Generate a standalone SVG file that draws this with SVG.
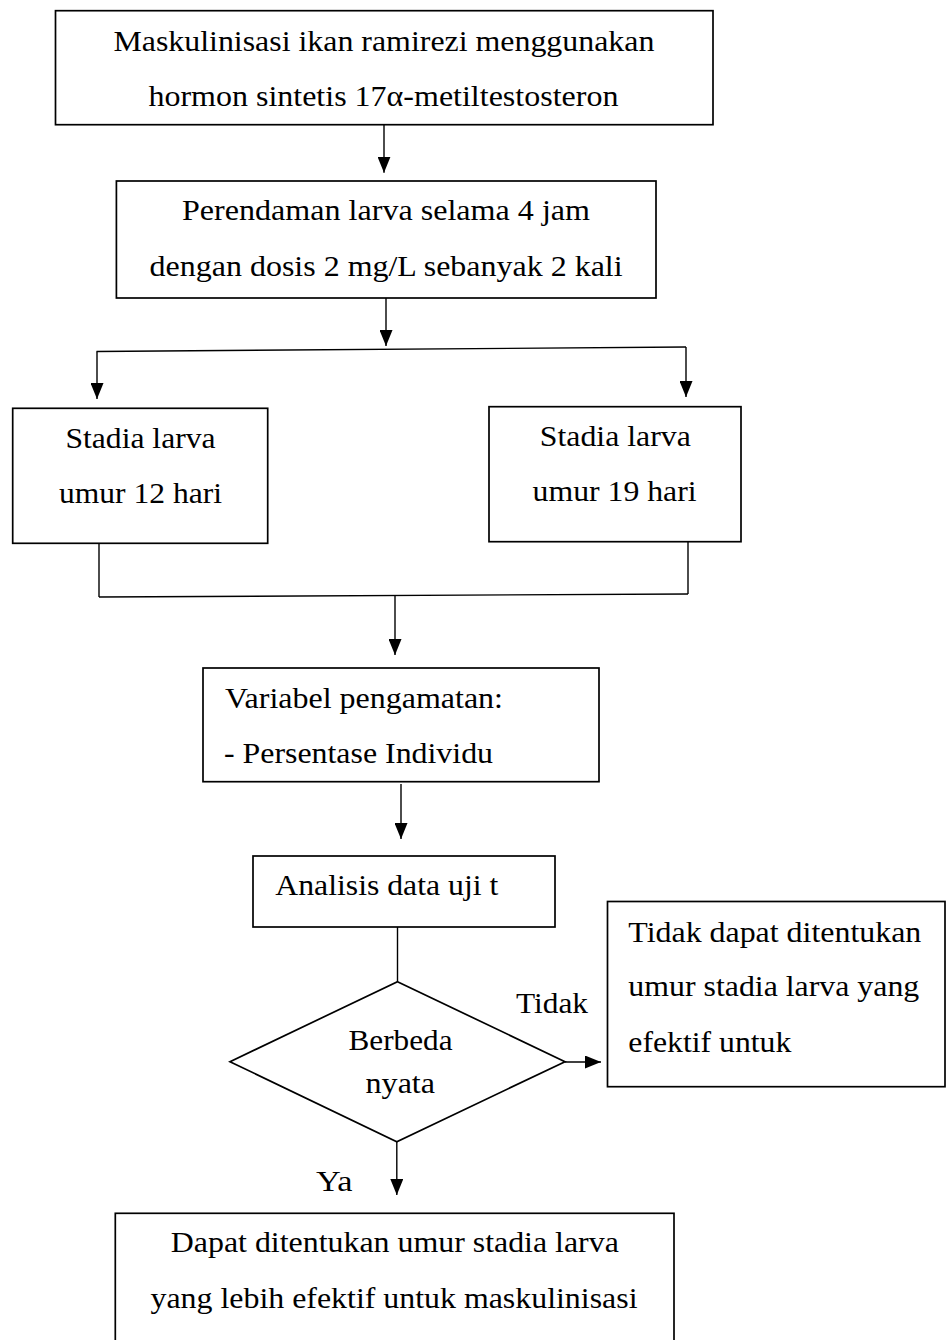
<svg xmlns="http://www.w3.org/2000/svg" width="946" height="1340" viewBox="0 0 946 1340">
<style>
.box{fill:#fff;stroke:#000;stroke-width:1.7}
.ln{fill:none;stroke:#000;stroke-width:1.4}
.t{font-family:"Liberation Serif","Times New Roman",serif;font-size:30px;fill:#000}
.s{font-size:29px}
.b{font-size:28.5px}
</style>
<defs>
<marker id="ah" viewBox="0 0 16 13" refX="16" refY="6.5" markerWidth="16" markerHeight="13" markerUnits="userSpaceOnUse" orient="auto">
<path d="M0,0 L16,6.5 L0,13 Z" fill="#000"/>
</marker>
</defs>
<rect width="946" height="1340" fill="#fff"/>
<g id="connectors">
<line class="ln" x1="384" y1="124.7" x2="384" y2="172.7" marker-end="url(#ah)"/>
<line class="ln" x1="386" y1="298" x2="386" y2="346" marker-end="url(#ah)"/>
<line class="ln" x1="96.5" y1="351.5" x2="686" y2="347"/>
<line class="ln" x1="97" y1="351.5" x2="97" y2="399" marker-end="url(#ah)"/>
<line class="ln" x1="686" y1="347" x2="686" y2="397" marker-end="url(#ah)"/>
<line class="ln" x1="99" y1="543" x2="99" y2="597"/>
<line class="ln" x1="688" y1="541.7" x2="688" y2="594"/>
<line class="ln" x1="99" y1="597" x2="688" y2="594"/>
<line class="ln" x1="395" y1="595.5" x2="395" y2="655" marker-end="url(#ah)"/>
<line class="ln" x1="401" y1="784" x2="401" y2="839" marker-end="url(#ah)"/>
<line class="ln" x1="397.5" y1="927" x2="397.5" y2="981.7"/>
<line class="ln" x1="565" y1="1062" x2="601" y2="1062" marker-end="url(#ah)"/>
<line class="ln" x1="396.8" y1="1141.7" x2="396.8" y2="1195" marker-end="url(#ah)"/>
<text class="t" x="516" y="1013" textLength="72" lengthAdjust="spacingAndGlyphs">Tidak</text>
<text class="t" x="316" y="1190.7" textLength="36.6" lengthAdjust="spacingAndGlyphs">Ya</text>
</g>
<g id="n1">
<rect class="box" x="55.5" y="10.7" width="657.5" height="114"/>
<text class="t s" x="113.4" y="51" textLength="541" lengthAdjust="spacingAndGlyphs">Maskulinisasi ikan ramirezi menggunakan</text>
<text class="t s" x="148.4" y="106" textLength="470" lengthAdjust="spacingAndGlyphs">hormon sintetis 17α-metiltestosteron</text>
</g>
<g id="n2">
<rect class="box" x="116.4" y="181" width="539.6" height="117"/>
<text class="t" x="182" y="220" textLength="408" lengthAdjust="spacingAndGlyphs">Perendaman larva selama 4 jam</text>
<text class="t" x="149.6" y="276" textLength="473" lengthAdjust="spacingAndGlyphs">dengan dosis 2 mg/L sebanyak 2 kali</text>
</g>
<g id="n3">
<rect class="box" x="12.7" y="408.3" width="255" height="135"/>
<text class="t" x="65.5" y="448.3" textLength="150" lengthAdjust="spacingAndGlyphs">Stadia larva</text>
<text class="t" x="59" y="503.4" textLength="163" lengthAdjust="spacingAndGlyphs">umur 12 hari</text>
</g>
<g id="n4">
<rect class="box" x="489" y="406.7" width="252" height="135"/>
<text class="t" x="539.8" y="446" textLength="151" lengthAdjust="spacingAndGlyphs">Stadia larva</text>
<text class="t" x="532.6" y="501" textLength="164" lengthAdjust="spacingAndGlyphs">umur 19 hari</text>
</g>
<g id="n5">
<rect class="box" x="203" y="668" width="396" height="113.7"/>
<text class="t" x="225" y="708" textLength="278" lengthAdjust="spacingAndGlyphs">Variabel pengamatan:</text>
<text class="t" x="224" y="763" textLength="269" lengthAdjust="spacingAndGlyphs">- Persentase Individu</text>
</g>
<g id="n6">
<rect class="box" x="253" y="856" width="302" height="71"/>
<text class="t" x="275.3" y="895" textLength="223" lengthAdjust="spacingAndGlyphs">Analisis data uji t</text>
</g>
<g id="n7">
<polygon class="box" points="397.5,981.7 565,1061.7 396.8,1141.7 230,1061.7"/>
<text class="t" x="348.5" y="1049.5" textLength="104" lengthAdjust="spacingAndGlyphs">Berbeda</text>
<text class="t" x="365.6" y="1093.3" textLength="69.4" lengthAdjust="spacingAndGlyphs">nyata</text>
</g>
<g id="n8">
<rect class="box" x="607.5" y="901.5" width="337.5" height="185.2"/>
<text class="t" x="628.3" y="941.7" textLength="293" lengthAdjust="spacingAndGlyphs">Tidak dapat ditentukan</text>
<text class="t" x="628.3" y="996" textLength="291" lengthAdjust="spacingAndGlyphs">umur stadia larva yang</text>
<text class="t" x="628.3" y="1051.7" textLength="163" lengthAdjust="spacingAndGlyphs">efektif untuk</text>
</g>
<g id="n9">
<rect class="box" x="115.3" y="1213.3" width="558.7" height="140"/>
<text class="t b" x="170.8" y="1252" textLength="448" lengthAdjust="spacingAndGlyphs">Dapat ditentukan umur stadia larva</text>
<text class="t b" x="150.5" y="1307.5" textLength="487" lengthAdjust="spacingAndGlyphs">yang lebih efektif untuk maskulinisasi</text>
</g>
</svg>
